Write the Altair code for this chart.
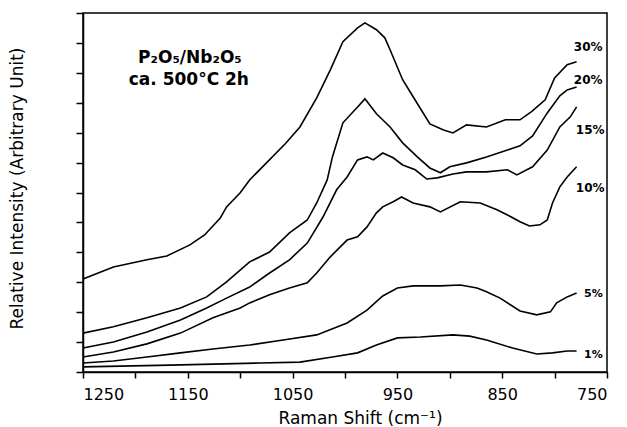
import altair as alt
import pandas as pd

# Raman shift (cm-1) and relative intensity
w30 = [1250, 1221, 1189, 1170, 1148, 1134, 1119, 1113, 1100, 1091, 1057, 1043, 1027, 1014, 1002, 988, 981, 970, 962, 957, 945, 935, 919, 906, 897, 884, 865, 847, 833, 822, 809, 800, 788, 779]
i30 = [3.11, 3.51, 3.75, 3.88, 4.25, 4.58, 5.15, 5.52, 5.99, 6.42, 7.63, 8.19, 9.16, 10.10, 11.04, 11.50, 11.67, 11.44, 11.17, 10.77, 9.77, 9.20, 8.29, 8.09, 7.99, 8.26, 8.19, 8.43, 8.43, 8.70, 9.10, 9.83, 10.27, 10.37]

w20 = [1250, 1221, 1189, 1157, 1132, 1113, 1091, 1072, 1053, 1036, 1027, 1017, 1012, 1002, 988, 981, 970, 957, 945, 931, 919, 909, 900, 884, 865, 845, 833, 821, 807, 795, 788, 779]
i20 = [1.30, 1.51, 1.81, 2.14, 2.51, 3.01, 3.68, 4.01, 4.65, 5.08, 5.65, 6.42, 7.19, 8.33, 8.86, 9.13, 8.63, 8.19, 7.66, 7.19, 6.82, 6.66, 6.86, 6.99, 7.19, 7.42, 7.56, 7.89, 8.66, 9.23, 9.43, 9.53]

w15 = [1250, 1221, 1189, 1157, 1132, 1113, 1091, 1072, 1053, 1036, 1021, 1008, 998, 988, 979, 973, 964, 954, 945, 933, 922, 912, 897, 884, 865, 845, 836, 821, 807, 795, 785, 779]
i15 = [0.80, 1.00, 1.34, 1.74, 2.14, 2.47, 2.84, 3.31, 3.75, 4.31, 5.18, 6.09, 6.52, 7.09, 7.19, 7.09, 7.32, 7.16, 6.92, 6.76, 6.45, 6.49, 6.62, 6.69, 6.69, 6.76, 6.59, 6.86, 7.42, 8.19, 8.53, 8.86]

w10 = [1250, 1221, 1189, 1157, 1126, 1100, 1091, 1072, 1053, 1036, 1027, 1014, 998, 988, 979, 970, 964, 954, 946, 935, 919, 909, 890, 871, 855, 845, 833, 824, 814, 807, 802, 795, 788, 779]
i10 = [0.50, 0.67, 0.94, 1.30, 1.81, 2.14, 2.31, 2.58, 2.81, 2.98, 3.31, 3.85, 4.41, 4.52, 4.85, 5.32, 5.52, 5.69, 5.85, 5.65, 5.52, 5.35, 5.69, 5.65, 5.42, 5.25, 5.02, 4.88, 4.92, 5.08, 5.65, 6.19, 6.52, 6.86]

w5 = [1250, 1221, 1189, 1157, 1126, 1091, 1059, 1027, 998, 979, 964, 950, 935, 909, 890, 874, 865, 852, 833, 817, 804, 798, 788, 779]
i5 = [0.30, 0.37, 0.50, 0.64, 0.77, 0.90, 1.07, 1.24, 1.64, 2.07, 2.54, 2.81, 2.88, 2.88, 2.91, 2.81, 2.68, 2.47, 2.04, 1.91, 2.01, 2.31, 2.51, 2.64]

w1 = [1250, 1167, 1081, 1043, 1012, 988, 970, 950, 928, 897, 881, 865, 840, 817, 802, 788, 779]
i1 = [0.17, 0.23, 0.30, 0.33, 0.50, 0.64, 0.90, 1.14, 1.17, 1.24, 1.20, 1.07, 0.80, 0.60, 0.64, 0.70, 0.70]

series_names = ["30%", "20%", "15%", "10%", "5%", "1%"]
series_w = [w30, w20, w15, w10, w5, w1]
series_i = [i30, i20, i15, i10, i5, i1]

label_x = [768, 768, 766, 766, 763, 763]
label_y = [10.87, 9.77, 8.09, 6.15, 2.61, 0.57]
label_size = [12, 12, 12, 12, 11, 11]

ann_text = ["P\u2082O\u2085/Nb\u2082O\u2085", "ca. 500\u00b0C 2h"]
ann_x = [1148, 1149]
ann_y = [10.5, 9.77]

x_ticks = list(range(750, 1251, 50))
y_ticks = list(range(0, 13))

rows = []
for name, ws, vs in zip(series_names, series_w, series_i):
    for w, v in zip(ws, vs):
        rows.append({"series": name, "shift": w, "intensity": v})
df = pd.DataFrame(rows)

labels_df = pd.DataFrame({"label": series_names, "shift": label_x,
                          "intensity": label_y, "size": label_size})
ann_df = pd.DataFrame({"text": ann_text, "shift": ann_x, "intensity": ann_y})

FONT = "DejaVu Sans"

xscale = alt.Scale(domain=[750, 1250], reverse=True, nice=False, zero=False)
yscale = alt.Scale(domain=[0, 12], nice=False, zero=False)

xaxis = alt.Axis(values=x_ticks, format="d",
                 labelExpr="datum.value % 100 == 50 ? datum.label : ''",
                 tickSize=6, labelPadding=8, labelFontSize=16, labelFont=FONT,
                 title="Raman Shift (cm\u207b\u00b9)", titleFontSize=17, titleFont=FONT,
                 titleFontWeight="normal", titleX=277, titleY=46,
                 titleBaseline="middle", titleAlign="center")
yaxis = alt.Axis(values=y_ticks, labels=False, tickSize=7,
                 title="Relative Intensity (Arbitrary Unit)", titleFontSize=17,
                 titleFont=FONT, titleFontWeight="normal", titleX=-66, titleY=175,
                 titleAngle=270, titleBaseline="middle", titleAlign="center")

X = alt.X("shift:Q", scale=xscale, axis=xaxis)
Y = alt.Y("intensity:Q", scale=yscale, axis=yaxis)

lines = alt.Chart(df).mark_line(color="black", strokeWidth=1.6).encode(
    x=X, y=Y,
    detail="series:N",
    order="shift:Q",
)

labels = alt.Chart(labels_df).mark_text(color="black", font=FONT, fontWeight="bold",
                                        align="center", baseline="middle").encode(
    x=X, y=Y,
    text="label:N",
    size=alt.Size("size:Q", scale=None, legend=None),
)

ann = alt.Chart(ann_df).mark_text(color="black", font=FONT, fontWeight="bold",
                                  fontSize=17, align="center", baseline="middle").encode(
    x=X, y=Y,
    text="text:N",
)

chart = alt.layer(lines, labels, ann).properties(
    width=524, height=359,
    autosize=alt.AutoSizeParams(type="none"),
    padding={"left": 75, "top": 5, "right": 12, "bottom": 55},
    background="white",
).configure_view(stroke="black", strokeWidth=1.5).configure_axis(
    grid=False, domainColor="black", domainWidth=1.5, tickColor="black",
    tickWidth=1.5, labelColor="black", titleColor="black",
)

chart.save("out.html", embed_options={"renderer": "svg", "actions": False})
